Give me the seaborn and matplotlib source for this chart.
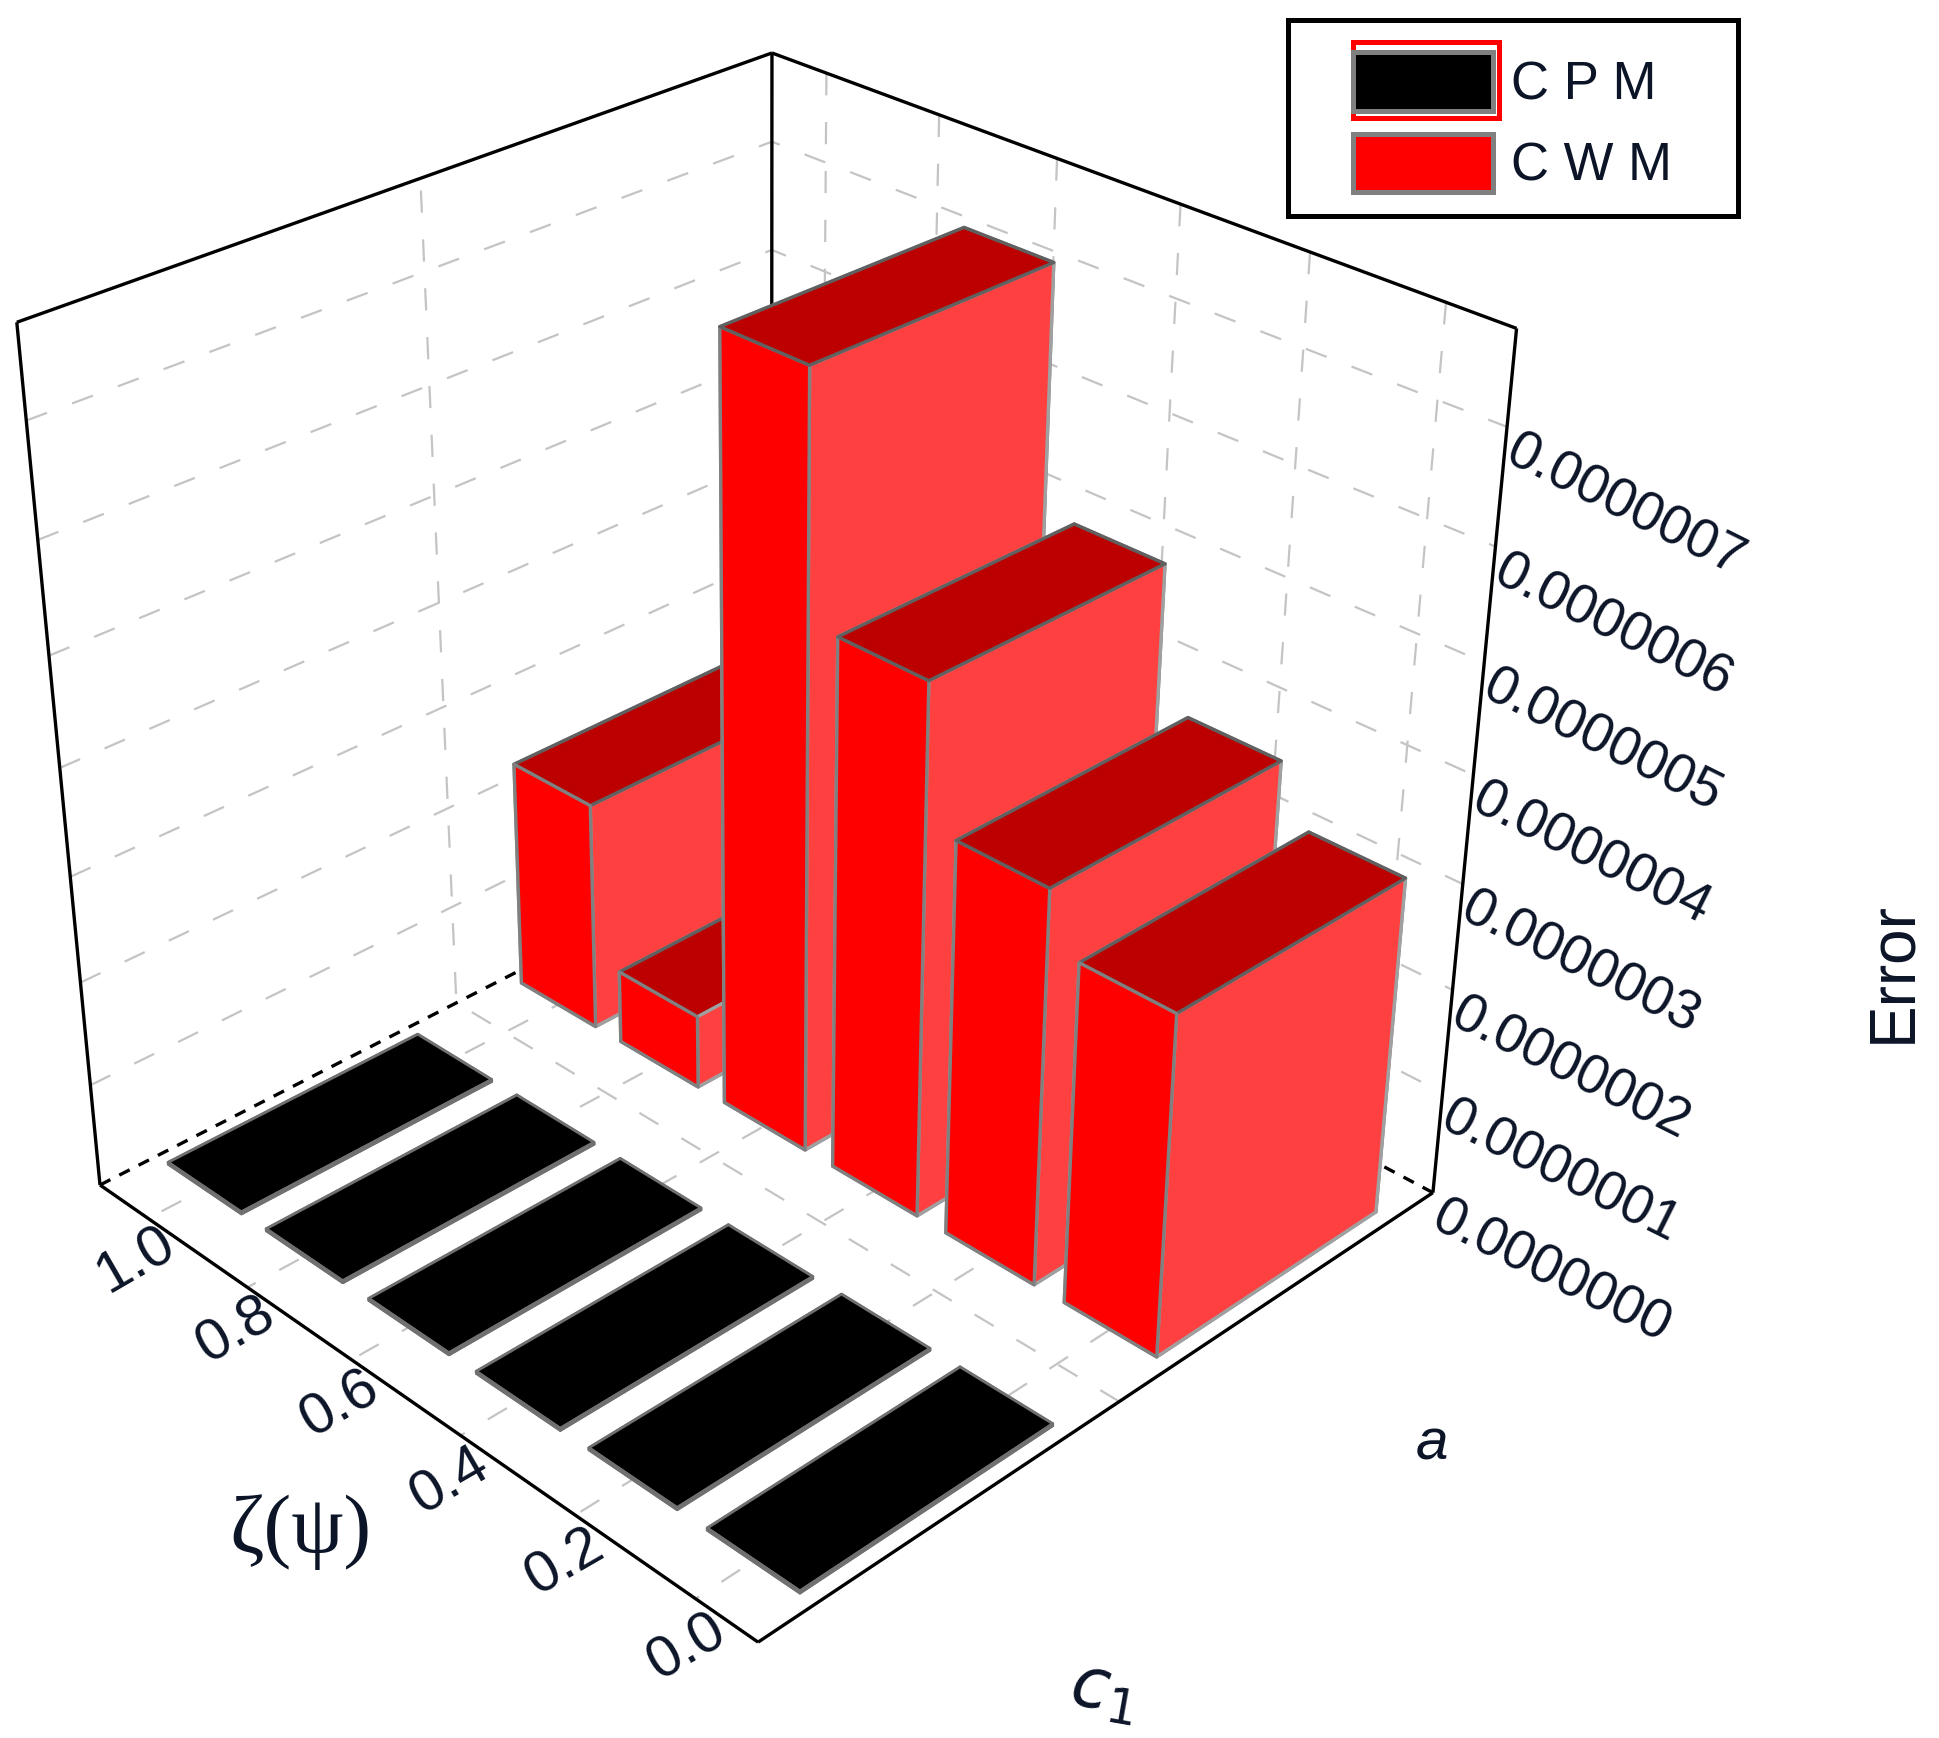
import matplotlib
matplotlib.use("Agg")
import matplotlib.pyplot as plt
from matplotlib.patches import Patch, Rectangle
from mpl_toolkits.mplot3d import proj3d
import seaborn as sns

W, H = 1940, 1738

series_names = ["CPM", "CWM"]
zeta_values = [0.0, 0.2, 0.4, 0.6, 0.8, 1.0]
cpm_error = [2e-9, 2e-9, 2e-9, 2e-9, 2e-9, 2e-9]
cwm_error = [3.22e-7, 3.74e-7, 5.02e-7, 7.22e-7, 0.72e-7, 2.25e-7]
error_ticks = [0.0, 1e-7, 2e-7, 3e-7, 4e-7, 5e-7, 6e-7, 7e-7]

sns.set_style("white")
plt.rcParams["font.family"] = ["Liberation Sans", "DejaVu Sans"]
plt.rcParams["grid.color"] = "#c4c4c4"
plt.rcParams["grid.linewidth"] = 1.6
plt.rcParams["grid.linestyle"] = (0, (10, 12))

fig = plt.figure(figsize=(W / 100, H / 100), dpi=100)
L = 1679
ax = fig.add_axes([-96.6 / W, 93.3 / H, L / W, L / H], projection="3d", computed_zorder=False)
ax.view_init(elev=30.58, azim=-134.44)
ax.set_proj_type("persp", focal_length=0.4756)
ax.set_box_aspect((0.994, 0.994, 0.9954))

x_lim = (0.5, 2.5)
y_lim = (-0.1, 1.1)
z_lim = (0, 7.8e-7)
ax.set_xlim(*x_lim)
ax.set_ylim(*y_lim)
ax.set_zlim(*z_lim)
ax.set_xticks([1.5])
ax.set_yticks(zeta_values)
ax.set_zticks(error_ticks[1:])
ax.set_xticklabels([])
ax.set_yticklabels([])
ax.set_zticklabels([])
ax.tick_params(length=0)
for a in (ax.xaxis, ax.yaxis, ax.zaxis):
    a.set_pane_color((1, 1, 1, 1))
    a.pane.set_edgecolor("white")
    a.line.set_color((1, 1, 1, 0))
    a._axinfo["tick"]["inward_factor"] = 0
    a._axinfo["tick"]["outward_factor"] = 0

# box frame, the bars go over the back corner
frame = dict(color="black", lw=2.4, solid_capstyle="butt")
x0, x1 = x_lim
y0, y1 = y_lim
z0, z1 = z_lim
ax.plot([x0, x1], [y0, y0], [z0, z0], zorder=50, **frame)
ax.plot([x0, x0], [y0, y1], [z0, z0], zorder=50, **frame)
ax.plot([x0, x0], [y1, y1], [z0, z1], zorder=1, **frame)
ax.plot([x1, x1], [y0, y0], [z0, z1], zorder=1, **frame)
ax.plot([x1, x1], [y1, y1], [z0, z1], zorder=1, **frame)
ax.plot([x0, x1], [y1, y1], [z1, z1], zorder=1, **frame)
ax.plot([x1, x1], [y0, y1], [z1, z1], zorder=1, **frame)
ax.plot([x0, x1], [y1, y1], [z0, z0], zorder=1, color="black", lw=2.4, ls=(0, (3.5, 3)))
ax.plot([x1, x1], [y0, y1], [z0, z0], zorder=1, color="black", lw=2.4, ls=(0, (3.5, 3)))

red_dx = 0.70
black_dx = 0.7
bar_dy = 0.15
# face order in bar3d: bottom, top, -y, +y, -x, +x
red_faces = ["#ff0000", "#bc0000", "#ff4040", "#ff4040", "#ff0000", "#ff0000"]
red_edges = ["#808080", "#606060", "#a0a0a0", "#a0a0a0", "#808080", "#808080"]
black_faces = ["black"] * 6
black_edges = ["#707070"] * 6

# back to front
for i in reversed(range(len(zeta_values))):
    z = zeta_values[i]
    ax.bar3d(1 - black_dx / 2, z - bar_dy / 2, 0, black_dx, bar_dy, cpm_error[i], color=black_faces,
             edgecolors=black_edges, linewidth=2.0, shade=False, zorder=10 + 2 * (5 - i))
for i in reversed(range(len(zeta_values))):
    z = zeta_values[i]
    ax.bar3d(2.01 - red_dx / 2, z - bar_dy / 2, 0, red_dx, bar_dy, cwm_error[i], color=red_faces,
             edgecolors=red_edges, linewidth=2.4, shade=False, zorder=30 + 2 * (5 - i))


def box_px(x, y, z):
    X, Y, _ = proj3d.proj_transform(x, y, z, ax.get_proj())
    return ax.transData.transform((X, Y))


# tick labels, skewed with the box in the original
text_color = "#0c1428"
for z in zeta_values:
    px, py = box_px(x0 - 0.07, z - 0.03, 0)
    fig.text(px / W, (py - 18) / H, f"{z:.1f}", fontsize=42, color=text_color, rotation=30,
             ha="center", va="center", rotation_mode="anchor")
for t in error_ticks:
    px, py = box_px(x1, y0, t)
    fig.text((px + 2) / W, (py - 22) / H, f"{t:.7f}", fontsize=39.5, color=text_color, rotation=-26.5,
             ha="left", va="center", rotation_mode="anchor")

fig.text(300 / W, 1 - 1532 / H, "ζ(ψ)", fontsize=60, family="Liberation Serif", color=text_color,
         ha="center", va="center")
fig.text(1103 / W, 1 - 1692 / H, "$c_1$", fontsize=50, color=text_color, rotation=-10,
         ha="center", va="center")
fig.text(1432 / W, 1 - 1444 / H, "a", fontsize=42, style="italic", color=text_color,
         ha="center", va="center")
fig.text(1893 / W, 1 - 972 / H, "Error", fontsize=46, color=text_color, rotation=90,
         ha="center", va="center")


# legend box and selection mark
def px_rect(x, y, w, h, **kw):
    return Rectangle((x / W, 1 - (y + h) / H), w / W, h / H, transform=fig.transFigure, **kw)


fig.add_artist(px_rect(1288, 20, 450, 196, fill=False, edgecolor="black", lw=3.6))
fig.add_artist(px_rect(1353, 42, 146, 76, fill=False, edgecolor="#ff0000", lw=3.6))
handles = [Patch(facecolor="black", edgecolor="#808080", lw=3.6), Patch(facecolor="#ff0000", edgecolor="#808080", lw=3.6)]
fig.legend(handles, [" ".join(n) for n in series_names], loc="upper left",
           bbox_to_anchor=(1353 / W, 1 - 52 / H), frameon=False, fontsize=38, handlelength=2.65,
           handleheight=1.34, handletextpad=0.35, labelspacing=0.43, borderpad=0, borderaxespad=0,
           labelcolor=text_color)

fig.savefig("out.png", dpi=100)
